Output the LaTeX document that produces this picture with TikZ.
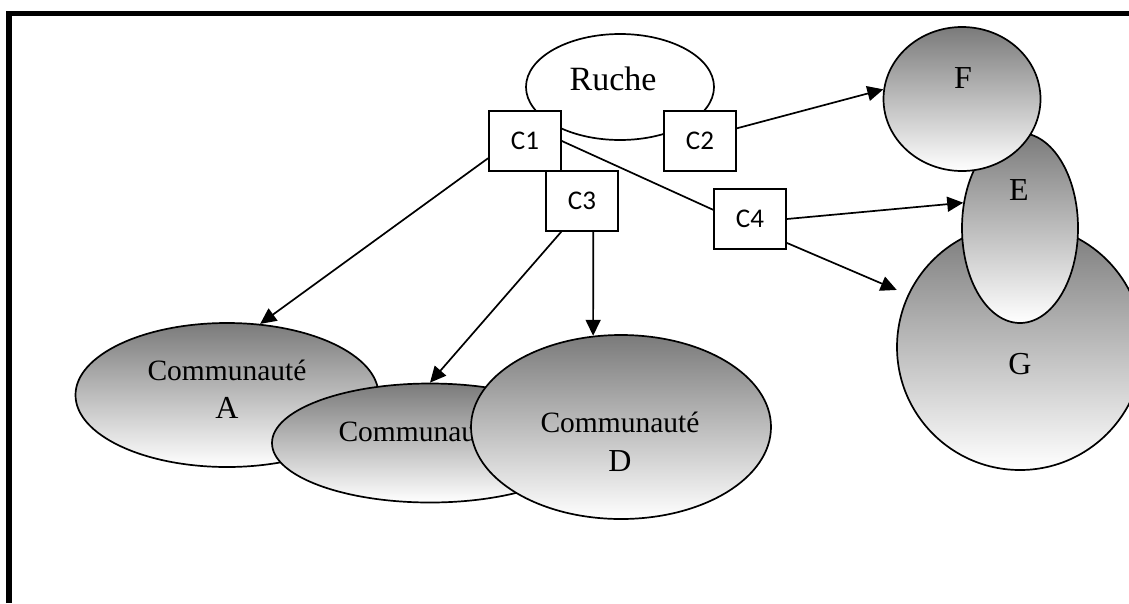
\documentclass[tikz,border=0pt]{standalone}
\usepackage{fontspec}
\setmainfont{Liberation Serif}
\newfontfamily\calibri{Carlito}
\usetikzlibrary{shapes.geometric}
\usetikzlibrary{arrows.meta}

\begin{document}
\begin{tikzpicture}[x=1pt,y=-1pt,
	comm/.style={ellipse,draw,line width=1.7pt,inner sep=0pt,top color=black!52,bottom color=white},
	conn/.style={draw,line width=1.7pt,fill=white,inner sep=0pt,minimum width=72pt,minimum height=60pt,font=\calibri\fontsize{27}{30}\selectfont},
	fl/.style={line width=1.7pt,-{Triangle[length=16pt,width=15pt]}},
	big/.style={anchor=base,font=\fontsize{32}{38}\selectfont}]
	\useasboundingbox (0,0) rectangle (1129,603);
	\draw[line width=5.5pt] (8.8,603)--(8.8,13.3)--(1129,13.3);
	% la ruche et ses connecteurs
	\node[ellipse,draw,line width=1.7pt,inner sep=0pt,minimum width=188pt,minimum height=106pt] (ruche) at (620,87) {};
	\node[anchor=base,font=\fontsize{34}{40}\selectfont] (tRuche) at (613,90) {Ruche};
	\node[conn] (c1) at (525,141) {C1};
	\node[conn] (c2) at (700,141) {C2};
	\node[conn] (c3) at (582,201) {C3};
	\node[conn] (c4) at (750,219) {C4};
	% communautes
	\node[comm,minimum width=303pt,minimum height=144pt] (comA) at (227,395) {};
	\node[big,font=\fontsize{29.5}{38}\selectfont] (tA1) at (227,380) {Communauté};
	\node[big] (tA2) at (227,418) {A};
	\node[comm,minimum width=316pt,minimum height=119pt] (comB) at (430,443) {};
	\node[big,font=\fontsize{29.5}{38}\selectfont] (tB) at (418,441) {Communauté};
	\node[comm,minimum width=300pt,minimum height=184pt] (comD) at (621,427) {};
	\node[big,font=\fontsize{29.5}{38}\selectfont] (tD1) at (620,432) {Communauté};
	\node[big] (tD2) at (620,471) {D};
	\node[comm,minimum width=246pt,minimum height=246pt] (G) at (1020,347) {};
	\node[big] (tG) at (1020,374) {G};
	\node[comm,minimum width=116pt,minimum height=190pt] (E) at (1020,228) {};
	\node[big] (tE) at (1019,200) {E};
	\node[comm,minimum width=157pt,minimum height=144pt] (F) at (962,99) {};
	\node[big] (tF) at (963,88) {F};
	% liens
	\draw[line width=1.7pt] (c1.east)--(c4.166);
	\draw[fl] (c1.205)--(comA.65);
	\draw[fl] (c3.-124)--(comB.north);
	\draw[fl] (c3.-70)--(comD.107);
	\draw[fl] (c2.19)--(F.173);
	\draw[fl] (c4.east)--(E.156);
	\draw[fl,shorten >=12pt] (c4.-33)--(G.155);
\end{tikzpicture}
\end{document}
